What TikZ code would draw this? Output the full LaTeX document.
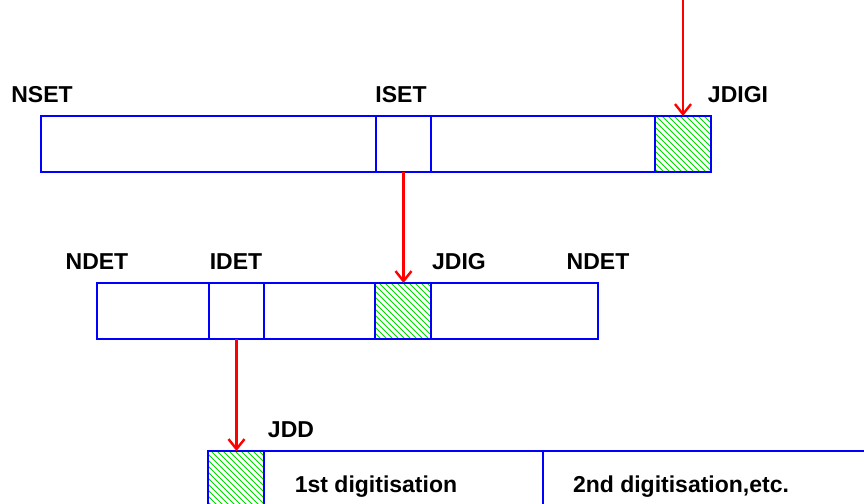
\documentclass[tikz,border=0pt]{standalone}
\usepackage{fontspec}
\setmainfont{Liberation Sans}
\usetikzlibrary{positioning, arrows.meta, patterns}

\begin{document}
\begin{tikzpicture}[x=0.5pt, y=-0.5pt,
    node distance=0pt,
    cell/.style={rectangle, draw=blue, line width=1.3pt, inner sep=0pt,
      outer sep=0pt, minimum height=28pt},
    digi/.style={cell, pattern=north west lines, pattern color=green!85!black},
    lbl/.style={font=\fontsize{11.5}{14}\selectfont\bfseries, anchor=base, inner sep=0pt},
    arrow/.style={red, line width=1.2pt, -{Straight Barb[length=5pt, width=8pt]}}]

    \useasboundingbox (0,0) rectangle (864,504);
    \clip (0,0) rectangle (864,504);

    % Sets
    \node[cell, minimum width=167.5pt, anchor=north west] (nset) at (41,116) {};
    \node[cell, minimum width=27.5pt, right=of nset] (iset) {};
    \node[cell, minimum width=112pt, right=of iset] (setrest) {};
    \node[digi, minimum width=28pt, right=of setrest] (jdigi) {};

    % Detectors
    \node[cell, minimum width=56pt, anchor=north west] (ndet) at (97,283) {};
    \node[cell, minimum width=27.5pt, right=of ndet] (idet) {};
    \node[cell, minimum width=55.5pt, right=of idet] (detmid) {};
    \node[digi, minimum width=28pt, right=of detmid] (jdig) {};
    \node[cell, minimum width=83.5pt, right=of jdig] (detrest) {};

    % Digitisations
    \node[digi, minimum width=28pt, minimum height=35pt, anchor=north west] (jdd) at (208,451) {};
    \node[cell, minimum width=139.5pt, minimum height=35pt, right=of jdd] (first) {};
    \node[cell, minimum width=178.5pt, minimum height=35pt, right=of first] (second) {};

    % Labels
    \node[lbl] (nsetlbl) at (42,102) {NSET};
    \node[lbl] (isetlbl) at (401,102) {ISET};
    \node[lbl] (jdigilbl) at (738,102) {JDIGI};
    \node[lbl] (ndetlbl) at (97,269) {NDET};
    \node[lbl] (idetlbl) at (236,269) {IDET};
    \node[lbl] (jdiglbl) at (459,269) {JDIG};
    \node[lbl] (ndetlbltwo) at (598,269) {NDET};
    \node[lbl] (jddlbl) at (291,437) {JDD};
    \node[lbl] (firstlbl) at (376,492) {1st digitisation};
    \node[lbl] (secondlbl) at (681,492) {2nd digitisation,etc.};

    % Arrows
    \coordinate (entry) at (jdigi.north |- 0,0);
    \draw[arrow] (entry) -- (jdigi.north);
    \draw[arrow] (iset.south) -- (iset.south |- jdig.north);
    \draw[arrow] (idet.south) -- (idet.south |- jdd.north);
\end{tikzpicture}
\end{document}
